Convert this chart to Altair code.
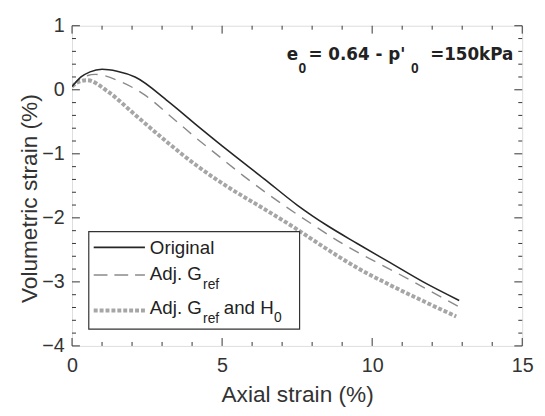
import altair as alt
import pandas as pd

# ---- data ----
x_orig = [0, 0.3, 0.6, 1.0, 1.5, 2.1, 3.2, 4.2, 5.2, 6.4, 7.5, 8.5, 9.5, 10.6, 11.7, 12.9]
y_orig = [0.05, 0.2, 0.28, 0.32, 0.29, 0.2, -0.18, -0.57, -0.95, -1.39, -1.80, -2.12, -2.40, -2.70, -3.00, -3.29]

x_gref = [0, 0.3, 0.78, 1.65, 2.42, 3.3, 4.05, 4.9, 5.7, 6.8, 8.0, 9.0, 9.6, 10.5, 11.3, 12.0, 12.9]
y_gref = [0.05, 0.18, 0.24, 0.12, -0.08, -0.42, -0.72, -1.04, -1.34, -1.72, -2.10, -2.40, -2.56, -2.78, -2.98, -3.16, -3.39]

x_h0 = [0, 0.2, 0.5, 1.2, 2.1, 3.2, 4.2, 5.2, 6.4, 7.4, 8.4, 9.5, 10.6, 11.7, 12.8]
y_h0 = [0.05, 0.12, 0.15, -0.03, -0.39, -0.83, -1.20, -1.52, -1.86, -2.15, -2.46, -2.78, -3.05, -3.30, -3.54]

x_major = [0, 5, 10, 15]
x_minor = [1, 2, 3, 4, 6, 7, 8, 9, 11, 12, 13, 14]
y_major = [-4, -3, -2, -1, 0, 1]
y_minor = [round(-4 + 0.2 * i, 1) for i in range(26) if i % 5 != 0]

W, H = 457, 325
FONT = "Liberation Sans"
NOTE_FONT = "DejaVu Sans"
INK = "#333333"

xscale = alt.Scale(domain=[0, 15], nice=False, zero=False)
yscale = alt.Scale(domain=[-4, 1], nice=False, zero=False)

xaxis = alt.Axis(values=x_major, ticks=False, domain=False, grid=False,
                 labelFontSize=20, labelFont=FONT, labelColor=INK, labelPadding=10,
                 labelFlush=False,
                 title="Axial strain (%)", titleFontSize=23, titleFont=FONT,
                 titleFontWeight="normal", titleColor=INK,
                 titleX=W / 2, titleY=56, titleBaseline="alphabetic", titleAlign="center")
yaxis = alt.Axis(values=y_major, ticks=False, domain=False, grid=False,
                 labelFontSize=20, labelFont=FONT, labelColor=INK, labelPadding=8,
                 labelFlush=False,
                 title="Volumetric strain (%)", titleFontSize=23, titleFont=FONT,
                 titleFontWeight="normal", titleColor=INK,
                 titleX=-36, titleY=175, titleAngle=-90, titleBaseline="alphabetic",
                 titleAlign="center")

X = alt.X("x:Q", scale=xscale, axis=xaxis)
Y = alt.Y("y:Q", scale=yscale, axis=yaxis)


def curve(xs, ys, color, width, dash=None):
    d = pd.DataFrame({"x": xs, "y": ys})
    kw = dict(color=color, strokeWidth=width, interpolate="monotone", clip=True)
    if dash:
        kw["strokeDash"] = dash
    return alt.Chart(d).mark_line(**kw).encode(x=X, y=Y)


c_h0 = curve(x_h0, y_h0, "#a6a6a6", 4, [4, 2])
c_gref = curve(x_gref, y_gref, "#8a8a8a", 1.4, [11, 8])
c_orig = curve(x_orig, y_orig, "#262626", 1.6)


def xticks(vals, length):
    d = pd.DataFrame({"x": vals})
    b = alt.Chart(d).mark_rule(color=INK, strokeWidth=1)
    return (b.encode(x=X, y=alt.value(H), y2=alt.value(H - length)) +
            b.encode(x=X, y=alt.value(0), y2=alt.value(length)))


def yticks(vals, length):
    d = pd.DataFrame({"y": vals})
    b = alt.Chart(d).mark_rule(color=INK, strokeWidth=1)
    return (b.encode(y=Y, x=alt.value(0), x2=alt.value(length)) +
            b.encode(y=Y, x=alt.value(W), x2=alt.value(W - length)))


dummy = pd.DataFrame({"a": [0]})


def txt(s, x, y, size, bold=False, align="left", font=FONT):
    return alt.Chart(pd.DataFrame({"t": [s]})).mark_text(
        align=align, baseline="alphabetic", fontSize=size, font=font,
        fontWeight="bold" if bold else "normal", color="#222222"
    ).encode(x=alt.value(x), y=alt.value(y), text="t:N")


# legend
ox, oy = 73, 23  # plot origin on the page
leg_box = alt.Chart(dummy).mark_rect(fill="white", stroke=INK, strokeWidth=1.2).encode(
    x=alt.value(90 - ox), x2=alt.value(304 - ox), y=alt.value(232 - oy), y2=alt.value(331 - oy))


def sample(y, color, width, dash=None):
    kw = dict(color=color, strokeWidth=width)
    if dash:
        kw["strokeDash"] = dash
    return alt.Chart(dummy).mark_rule(**kw).encode(
        x=alt.value(95 - ox), x2=alt.value(147 - ox), y=alt.value(y - oy))


legend = (leg_box
          + sample(248, "#262626", 1.6)
          + sample(276, "#8a8a8a", 1.4, [14, 7])
          + sample(312, "#a6a6a6", 4, [4, 2])
          + txt("Original", 152 - ox, 255 - oy, 19)
          + txt("Adj. G", 152 - ox, 281 - oy, 19)
          + txt("ref", 206 - ox, 290 - oy, 14)
          + txt("Adj. G", 152 - ox, 316 - oy, 19)
          + txt("ref", 206 - ox, 325 - oy, 14)
          + txt("and H", 227 - ox, 316 - oy, 19)
          + txt("0", 278 - ox, 324 - oy, 14))

note = (txt("e", 291 - ox, 58 - oy, 17, True, font=NOTE_FONT)
        + txt("0", 303 - ox, 71 - oy, 14, True)
        + txt("= 0.64 - p'", 313 - ox, 58 - oy, 17, True, font=NOTE_FONT)
        + txt("0", 417 - ox, 71 - oy, 14, True)
        + txt("=150kPa", 521 - ox, 58 - oy, 17, True, "right", font=NOTE_FONT))

chart = alt.layer(
    c_h0, c_gref, c_orig,
    xticks(x_major, 8), xticks(x_minor, 4),
    yticks(y_major, 8), yticks(y_minor, 4),
    legend, note
).properties(
    width=W, height=H,
    padding={"left": 65, "top": 15, "right": 15, "bottom": 60},
    autosize=alt.AutoSizeParams(type="none"),
).configure_view(stroke=INK, strokeWidth=1.2).configure(background="white")

chart.save("out.html", embed_options={"renderer": "svg", "actions": False})
